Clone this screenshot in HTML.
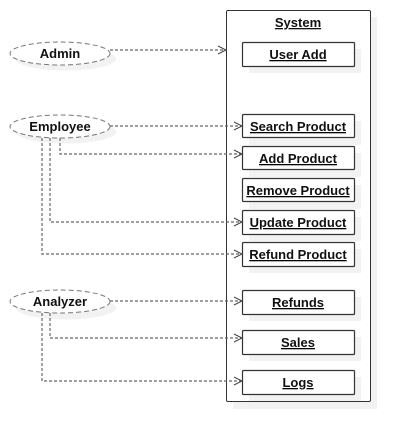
<!DOCTYPE html>
<html><head><meta charset="utf-8"><style>
html,body{margin:0;padding:0;background:#fff;}
svg text{font-family:"Liberation Sans",sans-serif;font-weight:bold;font-size:13px;fill:#111;text-anchor:middle;}
</style></head><body>
<svg width="410" height="442" xmlns="http://www.w3.org/2000/svg">
<g fill="#f2f2f2">
<rect x="233" y="17" width="144" height="392"/>
</g>
<rect x="226.5" y="10.5" width="144" height="391" rx="1.5" fill="#fff" stroke="#333" stroke-width="1"/>
<text x="298" y="27" text-decoration="underline">System</text>
<g fill="#f2f2f2">
<rect x="249" y="49" width="112" height="24"/>
<rect x="249" y="121" width="112" height="24"/>
<rect x="249" y="153" width="112" height="24"/>
<rect x="249" y="185" width="112" height="24"/>
<rect x="249" y="217" width="112" height="24"/>
<rect x="249" y="249" width="112" height="24"/>
<rect x="249" y="297" width="112" height="24"/>
<rect x="249" y="337" width="112" height="24"/>
<rect x="249" y="377" width="112" height="24"/>
<ellipse cx="66" cy="59" rx="50" ry="11.5"/>
<ellipse cx="66" cy="132" rx="50" ry="11.5"/>
<ellipse cx="66" cy="308" rx="50" ry="11.5"/>
</g>
<g fill="#fff" stroke="#333" stroke-width="1.2">
<rect x="242.5" y="42.5" width="112" height="24" rx="1"/>
<rect x="242.5" y="114.5" width="112" height="23" rx="1"/>
<rect x="242.5" y="146.5" width="112" height="23" rx="1"/>
<rect x="242.5" y="178.5" width="112" height="23" rx="1"/>
<rect x="242.5" y="210.5" width="112" height="24" rx="1"/>
<rect x="242.5" y="242.5" width="112" height="24" rx="1"/>
<rect x="242.5" y="290.5" width="112" height="24" rx="1"/>
<rect x="242.5" y="330.5" width="112" height="24" rx="1"/>
<rect x="242.5" y="370.5" width="112" height="24" rx="1"/>
</g>
<g fill="#fff" stroke="#777" stroke-width="1" stroke-dasharray="5,3">
<ellipse cx="60" cy="53.5" rx="50" ry="11.5"/>
<ellipse cx="60" cy="126.5" rx="50" ry="11.5"/>
<ellipse cx="60" cy="301.5" rx="50" ry="11.5"/>
</g>
<g text-decoration="underline">
<text x="298" y="59">User Add</text>
<text x="298" y="131">Search Product</text>
<text x="298" y="163">Add Product</text>
<text x="298" y="195">Remove Product</text>
<text x="298" y="227">Update Product</text>
<text x="298" y="259">Refund Product</text>
<text x="298" y="307">Refunds</text>
<text x="298" y="347">Sales</text>
<text x="298" y="387">Logs</text>
</g>
<text x="60" y="58">Admin</text>
<text x="60" y="131">Employee</text>
<text x="60" y="306">Analyzer</text>
<g fill="none" stroke="#666" stroke-width="1.2" stroke-dasharray="3,2">
<path d="M110 50H226"/>
<path d="M110 126H242"/>
<path d="M60 138V154H242"/>
<path d="M50 138V222H242"/>
<path d="M42 138V254H242"/>
<path d="M110 301H242"/>
<path d="M50 313V338H242"/>
<path d="M42 313V381H242"/>
</g>
<g fill="none" stroke="#444" stroke-width="1">
<path d="M218 46L226 50L218 54"/>
<path d="M234 122L242 126L234 130"/>
<path d="M234 150L242 154L234 158"/>
<path d="M234 218L242 222L234 226"/>
<path d="M234 250L242 254L234 258"/>
<path d="M234 297L242 301L234 305"/>
<path d="M234 334L242 338L234 342"/>
<path d="M234 377L242 381L234 385"/>
</g>
</svg>
</body></html>
